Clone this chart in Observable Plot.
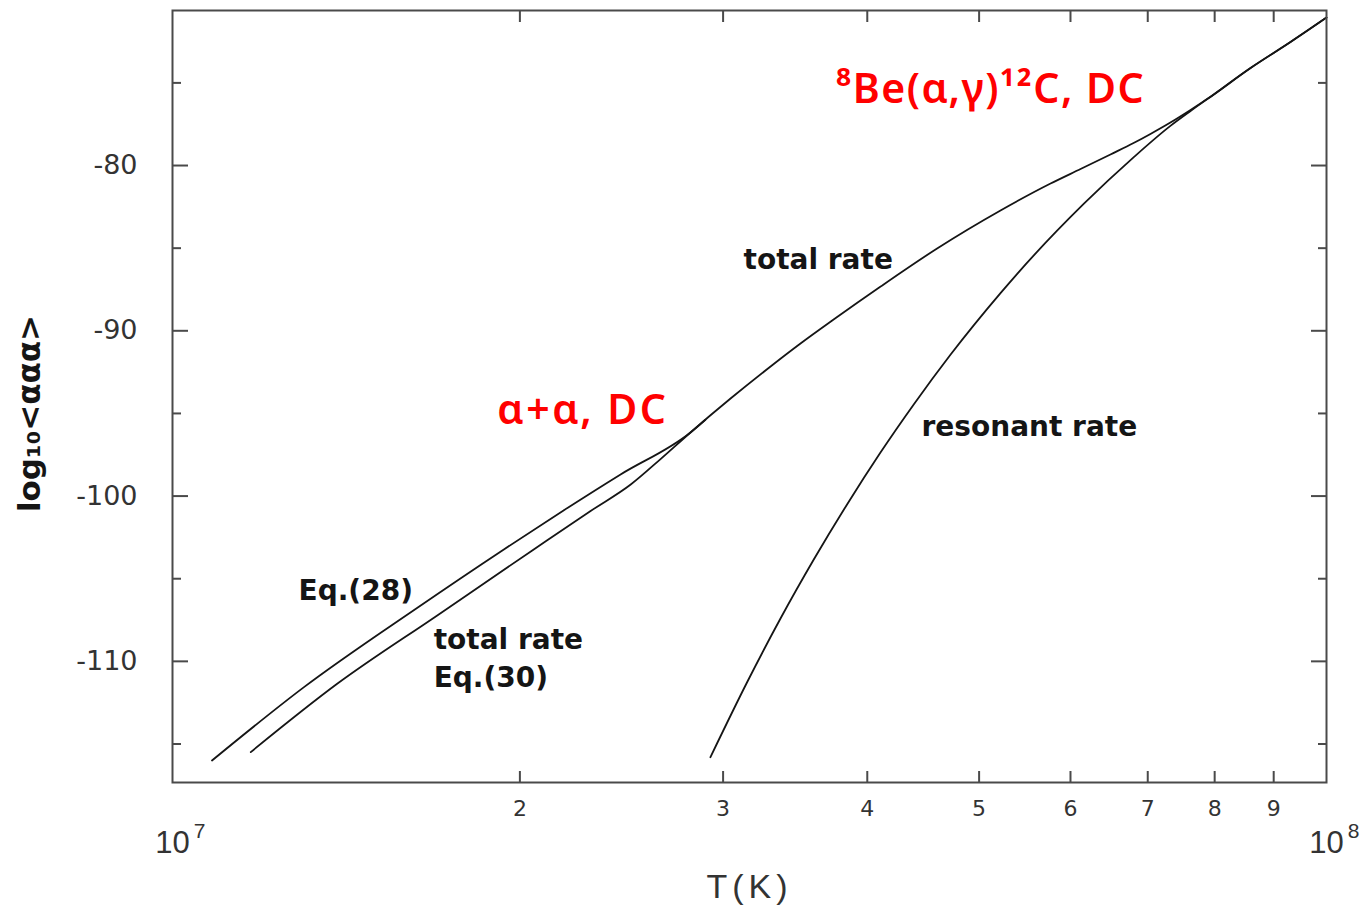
<!DOCTYPE html>
<html>
<head>
<meta charset="utf-8">
<script src="https://cdn.jsdelivr.net/npm/d3@7"></script>
<script src="https://cdn.jsdelivr.net/npm/@observablehq/plot@0.6"></script>
<style>
  body { margin: 0; background: #fff; }
  #chart svg { display: block; }
</style>
</head>
<body>
<div id="chart"></div>
<script>
// Triple-alpha reaction rate, log10 <ααα>, versus temperature T (K)

// Eq.(28): non-resonant approximation (upper line at low T)
const eq28T    = [1.082e7, 1.300e7, 1.629e7, 1.937e7, 2.182e7, 2.445e7, 2.811e7, 2.896e7];
const eq28Rate = [-116.0, -111.56, -106.77, -103.23, -100.87, -98.69, -96.15, -95.38];

// Total rate, Eq.(30)
const totalT    = [1.169e7, 1.389e7, 1.696e7, 2.050e7, 2.303e7, 2.495e7, 2.648e7, 2.811e7,
                   3.045e7, 3.298e7, 3.501e7, 3.740e7, 4.108e7, 4.598e7, 5.218e7, 5.766e7,
                   6.122e7, 6.498e7, 6.805e7, 7.038e7, 7.324e7, 7.624e7, 7.882e7, 8.594e7, 9.307e7, 1.0e8];
const totalRate = [-115.49, -111.36, -107.22, -103.29, -100.90, -99.30, -97.76, -96.15,
                   -94.10, -92.16, -90.77, -89.32, -87.32, -85.02, -82.72, -81.09,
                   -80.21, -79.33, -78.64, -78.09, -77.40, -76.64, -75.98, -74.10, -72.53, -71.05];

// Resonant rate
const resonantT    = [2.925e7, 3.148e7, 3.364e7, 3.595e7, 3.843e7, 4.108e7, 4.390e7, 4.722e7,
                      5.218e7, 5.395e7, 6.163e7, 6.808e7, 7.324e7, 7.624e7, 7.882e7, 8.594e7, 9.307e7, 1.0e8];
const resonantRate = [-115.80, -111.25, -107.41, -103.84, -100.49, -97.35, -94.44, -91.45,
                      -87.72, -86.55, -82.31, -79.49, -77.60, -76.70, -75.98, -74.10, -72.53, -71.05];

// Axis extents and ticks
const xDomain = [1e7, 1e8];
const yDomain = [-117.33, -70.62];
const yMajorTicks = [-80, -90, -100, -110];
const yMinorTicks = [-75, -85, -95, -105, -115];
const xTicks = [2e7, 3e7, 4e7, 5e7, 6e7, 7e7, 8e7, 9e7];
const xTickLabels = ["2", "3", "4", "5", "6", "7", "8", "9"];
const decadeT = [1e7, 1e8];
const decadeBase = ["10", "10"];
const decadeExp = ["7", "8"];

// Curve annotations (left-aligned)
const curveLabelText = ["Eq.(28)", "total rate", "Eq.(30)", "total rate", "resonant rate"];
const curveLabelT    = [1.286e7, 1.684e7, 1.684e7, 3.125e7, 4.457e7];
const curveLabelRate = [-105.77, -108.68, -111.03, -85.69, -95.85];

// Process annotations (centred, red)
const processText = ["α+α, DC", "⁸Be(α,γ)¹²C, DC"];
const processT    = [2.268e7, 5.116e7];
const processRate = [-94.82, -75.40];
const processSpacing = ["2.5px", "1.5px"];

const rows = (T, R, curve) => T.map((t, i) => ({T: t, rate: R[i], curve}));
const eq28 = rows(eq28T, eq28Rate, "Eq.(28)");
const total = rows(totalT, totalRate, "total");
const resonant = rows(resonantT, resonantRate, "resonant");
const curveLabels = curveLabelText.map((s, i) => ({text: s, T: curveLabelT[i], rate: curveLabelRate[i]}));
const processLabels = processText.map((s, i) => ({text: s, T: processT[i], rate: processRate[i]}));
const decades = decadeT.map((t, i) => ({T: t, base: decadeBase[i], exp: decadeExp[i]}));
const xLabelOf = new Map(xTicks.map((t, i) => [t, xTickLabels[i]]));

const ink = "#151515";
const axisInk = "#4a4a4a";
const lineStyle = {x: "T", y: "rate", stroke: ink, strokeWidth: 1.8, curve: "monotone-x"};

const chart = Plot.plot({
  width: 1367,
  height: 907,
  marginLeft: 172,
  marginRight: 41,
  marginTop: 10,
  marginBottom: 125,
  style: {background: "#fff", fontFamily: "DejaVu Sans"},
  x: {type: "log", domain: xDomain},
  y: {domain: yDomain},
  marks: [
    Plot.line(eq28, lineStyle),
    Plot.line(total, lineStyle),
    Plot.line(resonant, lineStyle),

    Plot.frame({stroke: axisInk, strokeWidth: 2}),

    // y axis: inward ticks on both sides, labels on the left
    Plot.axisY(yMajorTicks, {anchor: "left", tickSize: -16, tickPadding: 51, tickFormat: d => String(d),
      fontSize: 27, fill: "#333", stroke: axisInk, strokeWidth: 2, label: null}),
    Plot.axisY(yMinorTicks, {anchor: "left", tickSize: -9, tickFormat: () => "", stroke: axisInk, strokeWidth: 2, label: null}),
    Plot.axisY(yMajorTicks, {anchor: "right", tickSize: -16, tickFormat: () => "", stroke: axisInk, strokeWidth: 2, label: null}),
    Plot.axisY(yMinorTicks, {anchor: "right", tickSize: -9, tickFormat: () => "", stroke: axisInk, strokeWidth: 2, label: null}),

    // x axis: inward ticks top and bottom, digit labels below
    Plot.axisX(xTicks, {anchor: "bottom", tickSize: -11, tickPadding: 29, tickFormat: d => xLabelOf.get(d),
      fontSize: 22, fill: "#333", stroke: axisInk, strokeWidth: 2, label: null}),
    Plot.axisX(xTicks, {anchor: "top", tickSize: -11, tickFormat: () => "", stroke: axisInk, strokeWidth: 2, label: null}),

    // decade labels 10^7 and 10^8
    Plot.text(decades, {x: "T", frameAnchor: "bottom", lineAnchor: "middle", text: "base", dx: 0, dy: 61,
      fontSize: 31, fill: "#333", fontFamily: "Liberation Sans"}),
    Plot.text(decades, {x: "T", frameAnchor: "bottom", lineAnchor: "middle", text: "exp", dx: 27, dy: 49,
      fontSize: 21, fill: "#333", fontFamily: "Liberation Sans"}),

    // axis titles
    Plot.text(["T(K)"], {frameAnchor: "bottom", textAnchor: "middle", lineAnchor: "middle", dx: 0, dy: 105,
      fontSize: 34, fill: "#333", fontFamily: "Liberation Sans"}),
    Plot.text(["log₁₀<ααα>"], {frameAnchor: "left", textAnchor: "middle", lineAnchor: "middle", rotate: -90,
      dx: -142, dy: 17, fontSize: 31, fontWeight: "bold", fill: ink}),

    // curve annotations
    Plot.text(curveLabels, {x: "T", y: "rate", text: "text", textAnchor: "start", fontSize: 28, fontWeight: "bold", fill: ink}),

    // process annotations
    Plot.text(processLabels, {x: "T", y: "rate", text: "text", fontSize: 41, fontWeight: 600, fill: "#ff0000", fontFamily: "Noto Sans"})
  ]
});

// letter spacing for the axis title and the red process labels
d3.select(chart).selectAll("text").each(function () {
  const s = this.textContent;
  if (s === "T(K)") this.style.letterSpacing = "5px";
  const k = processText.indexOf(s);
  if (k >= 0) this.style.letterSpacing = processSpacing[k];
});

document.getElementById("chart").appendChild(chart);
</script>
</body>
</html>
